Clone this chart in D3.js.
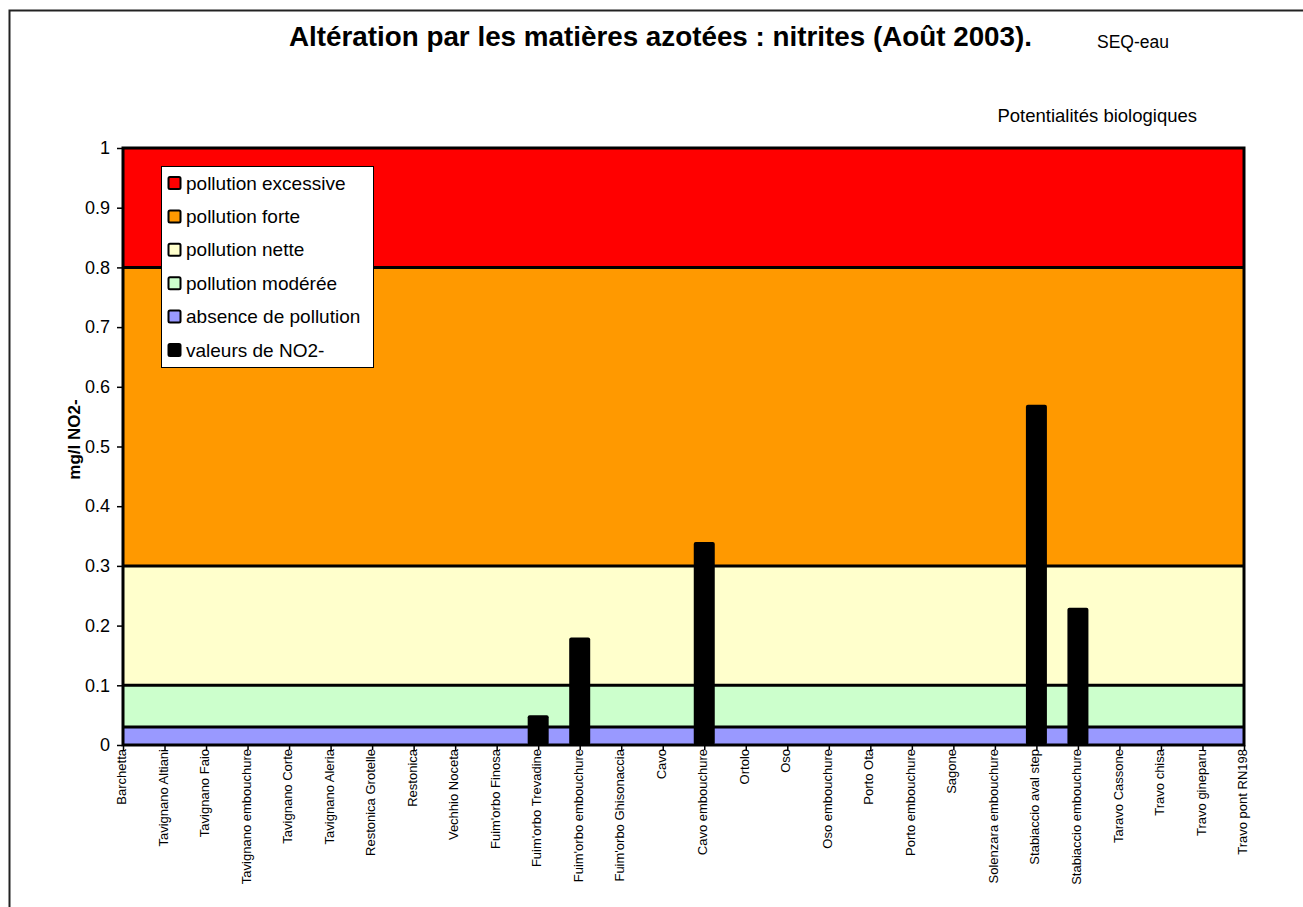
<!DOCTYPE html>
<html>
<head>
<meta charset="utf-8">
<script src="https://cdn.jsdelivr.net/npm/d3@7"></script>
<style>
  html, body { margin: 0; padding: 0; background: #fff; }
  svg { display: block; }
  text { font-family: Arial, "Liberation Sans", sans-serif; fill: #000; }
</style>
</head>
<body>
<svg id="chart" width="1303" height="907"></svg>
<script>
// ---------------- data ----------------
const categories = [
  "Barchetta", "Tavignano Altiani", "Tavignano Faio", "Tavignano embouchure",
  "Tavignano Corte", "Tavignano Aleria", "Restonica Grotelle", "Restonica",
  "Vechhio Noceta", "Fuim'orbo Finosa", "Fuim'orbo Trevadine", "Fuim'orbo embouchure",
  "Fuim'orbo Ghisonaccia", "Cavo", "Cavo embouchure", "Ortolo", "Oso",
  "Oso embouchure", "Porto Ota", "Porto embouchure", "Sagone",
  "Solenzara embouchure", "Stabiaccio aval step", "Stabiaccio embouchure",
  "Taravo Cassone", "Travo chisa", "Travo gineparu", "Travo pont RN198"
];
const no2Values = [
  0, 0, 0, 0, 0, 0, 0, 0, 0, 0,
  0.05, 0.18, 0, 0, 0.34, 0, 0, 0, 0, 0,
  0, 0, 0.57, 0.23, 0, 0, 0, 0
];
const bandNames  = ["pollution excessive", "pollution forte", "pollution nette", "pollution modérée", "absence de pollution"];
const bandLower  = [0.8, 0.3, 0.1, 0.03, 0];
const bandUpper  = [1, 0.8, 0.3, 0.1, 0.03];
const bandColors = ["#FF0000", "#FF9900", "#FFFFCC", "#CCFFCC", "#9999FF"];
const seriesName = "valeurs de NO2-";
const yTicks = [0, 0.1, 0.2, 0.3, 0.4, 0.5, 0.6, 0.7, 0.8, 0.9, 1];
const titleText = "Altération par les matières azotées : nitrites (Août 2003).";
const subText1 = "SEQ-eau";
const subText2 = "Potentialités biologiques";
const yAxisTitle = "mg/l NO2-";

// ---------------- layout ----------------
const svg = d3.select("#chart");
const plot = { left: 123, right: 1244, top: 148, bottom: 745 };

const x = d3.scalePoint().domain(categories).range([plot.left, plot.right]).padding(0);
const y = d3.scaleLinear().domain([0, 1]).range([plot.bottom, plot.top]);

// outer frame (only top/left visible in reference)
svg.append("path")
  .attr("d", "M9.5,907 V10.5 H1303")
  .attr("fill", "none").attr("stroke", "#222").attr("stroke-width", 2);

// titles
svg.append("text").attr("x", 660.5).attr("y", 46)
  .attr("text-anchor", "middle").attr("font-size", 27.8).attr("font-weight", "bold")
  .text(titleText);
svg.append("text").attr("x", 1097).attr("y", 48)
  .attr("font-size", 17.5).text(subText1);
svg.append("text").attr("x", 1197).attr("y", 122)
  .attr("text-anchor", "end").attr("font-size", 18.5).text(subText2);

// x-axis labels (drawn first so the plot hides any overflow)
const xAxis = d3.axisBottom(x).tickSize(5).tickPadding(2);
const gx = svg.append("g").attr("transform", `translate(0,${plot.bottom})`).call(xAxis);
gx.select(".domain").remove();
gx.selectAll(".tick line").attr("stroke", "#000").attr("stroke-width", 1.5);
gx.selectAll(".tick text")
  .attr("font-size", 13)
  .attr("text-anchor", "end")
  .attr("transform", "rotate(-90)")
  .attr("x", -4).attr("y", -2).attr("dy", "0.35em")
  .style("font-family", 'Arial, "Liberation Sans", sans-serif');

// bands
const bands = bandNames.map((n, i) => ({ name: n, lo: bandLower[i], hi: bandUpper[i], color: bandColors[i] }));
svg.append("g").selectAll("rect").data(bands).join("rect")
  .attr("x", plot.left).attr("width", plot.right - plot.left)
  .attr("y", d => y(d.hi)).attr("height", d => y(d.lo) - y(d.hi))
  .attr("fill", d => d.color);
// boundary lines
svg.append("g").selectAll("line").data(bandLower.filter(v => v > 0)).join("line")
  .attr("x1", plot.left).attr("x2", plot.right)
  .attr("y1", d => y(d)).attr("y2", d => y(d))
  .attr("stroke", "#000").attr("stroke-width", 3);

// bars
const barW = 21;
svg.append("g").selectAll("rect").data(categories.map((c, i) => ({ c, v: no2Values[i] })).filter(d => d.v > 0)).join("rect")
  .attr("x", d => x(d.c) - barW / 2).attr("width", barW)
  .attr("y", d => y(d.v)).attr("height", d => y(0) - y(d.v))
  .attr("rx", 2).attr("ry", 2)
  .attr("fill", "#000");

// plot frame
svg.append("rect")
  .attr("x", plot.left).attr("y", plot.top)
  .attr("width", plot.right - plot.left).attr("height", plot.bottom - plot.top)
  .attr("fill", "none").attr("stroke", "#000").attr("stroke-width", 3);

// y axis
const yAxis = d3.axisLeft(y).tickValues(yTicks).tickFormat(d3.format("")).tickSize(5).tickPadding(7);
const gy = svg.append("g").attr("transform", `translate(${plot.left - 1},0)`).call(yAxis);
gy.select(".domain").remove();
gy.selectAll(".tick line").attr("stroke", "#000").attr("stroke-width", 1.5);
gy.selectAll(".tick text").attr("font-size", 18)
  .style("font-family", 'Arial, "Liberation Sans", sans-serif');

// y axis title
svg.append("text")
  .attr("transform", `translate(80,${(plot.top + plot.bottom) / 2 - 7}) rotate(-90)`)
  .attr("text-anchor", "middle").attr("font-size", 17).attr("font-weight", "bold")
  .text(yAxisTitle);

// legend
const legend = svg.append("g");
legend.append("rect").attr("x", 161.5).attr("y", 166.5).attr("width", 212).attr("height", 201)
  .attr("fill", "#fff").attr("stroke", "#000").attr("stroke-width", 1);
const legItems = bands.map(b => ({ name: b.name, color: b.color })).concat([{ name: seriesName, color: "#000" }]);
const rowH = 33.4;
const li = legend.selectAll("g.item").data(legItems).join("g").attr("class", "item")
  .attr("transform", (d, i) => `translate(0,${183 + i * rowH})`);
li.append("rect").attr("x", 168.5).attr("y", -6).attr("width", 12).attr("height", 12)
  .attr("rx", 1.5)
  .attr("fill", d => d.color).attr("stroke", "#000").attr("stroke-width", 2);
li.append("text").attr("x", 186).attr("y", 0).attr("dy", "0.35em")
  .attr("font-size", 19).text(d => d.name);
</script>
</body>
</html>
